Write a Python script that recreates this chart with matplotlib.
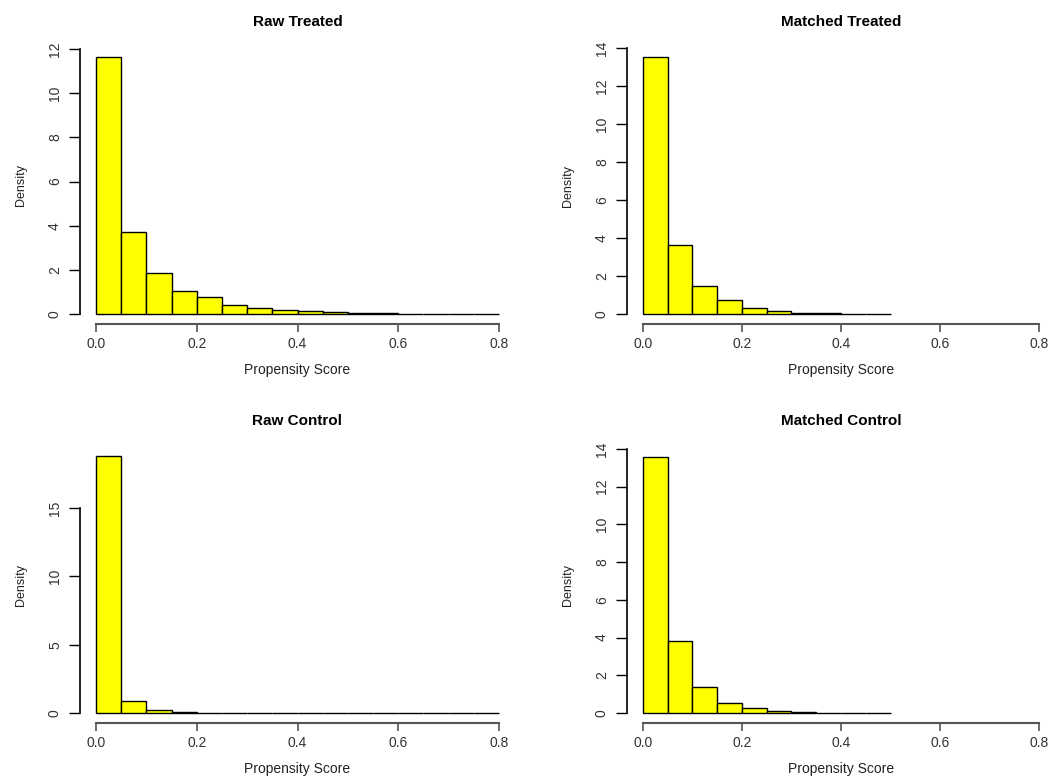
import numpy as np
import matplotlib
matplotlib.use('Agg')
import matplotlib.pyplot as plt

plt.rcParams['font.family'] = ['Liberation Sans', 'DejaVu Sans']

# histogram densities (bin width 0.05)
bin_width = 0.05
raw_treated = [11.65, 3.7, 1.87, 1.05, 0.77, 0.42, 0.25, 0.17, 0.13, 0.08,
               0.04, 0.03, 0.005, 0.0, 0.003, 0.002]
matched_treated = [13.5, 3.65, 1.45, 0.72, 0.32, 0.18, 0.04, 0.03, 0.02, 0.005]
raw_control = [18.8, 0.85, 0.2, 0.05, 0.01, 0.005, 0.003, 0.002, 0.001, 0.001,
               0.0, 0.0, 0.0, 0.0, 0.0, 0.0]
matched_control = [13.6, 3.8, 1.38, 0.55, 0.28, 0.13, 0.05, 0.01, 0.005, 0.003]

titles = ["Raw Treated", "Matched Treated", "Raw Control", "Matched Control"]
series = [raw_treated, matched_treated, raw_control, matched_control]
yticks = [[0, 2, 4, 6, 8, 10, 12], [0, 2, 4, 6, 8, 10, 12, 14],
          [0, 5, 10, 15], [0, 2, 4, 6, 8, 10, 12, 14]]
xticks = [0.0, 0.2, 0.4, 0.6, 0.8]

W, H = 1060, 778
fig = plt.figure(figsize=(W / 100, H / 100), dpi=100)

# axes boxes in pixels: left, right, top, bottom
boxes = [(80, 515, 46.5, 324.3), (627, 1055, 47.2, 324.3),
         (80, 515, 445.8, 723.3), (627, 1055, 446.3, 723.3)]

for title, dens, yt, (l, r, t, b) in zip(titles, series, yticks, boxes):
    ax = fig.add_axes([l / W, 1 - b / H, (r - l) / W, (b - t) / H])
    edges = np.arange(len(dens)) * bin_width
    ax.bar(edges, dens, width=bin_width, align='edge', color='#ffff00',
           edgecolor='black', linewidth=1.0)
    ymax = max(dens)
    ax.set_xlim(-0.032, 0.832)
    ax.set_ylim(-0.04 * ymax, 1.04 * ymax)
    for s in ['top', 'right']:
        ax.spines[s].set_visible(False)
    ax.spines['left'].set_bounds(yt[0], yt[-1])
    ax.spines['bottom'].set_bounds(0, 0.8)
    ax.spines['bottom'].set_color('#555555')
    ax.spines['bottom'].set_linewidth(1.5)
    ax.spines['left'].set_linewidth(1.2)
    ax.set_xticks(xticks)
    ax.set_xticklabels(["0.0", "0.2", "0.4", "0.6", "0.8"])
    ax.set_yticks(yt)
    ax.set_yticklabels([str(v) for v in yt], rotation=90, va='center')
    ax.tick_params(axis='x', length=6, width=1.2, color='#555555', pad=3,
                   labelsize=10, labelcolor='#333333')
    ax.tick_params(axis='y', length=8, width=1.0, pad=5, labelsize=10,
                   labelcolor='#333333')
    ax.set_xlabel("Propensity Score", fontsize=10, labelpad=9, color='#222222')
    ax.set_ylabel("Density", fontsize=9, labelpad=15, color='#222222')
    ax.set_title(title, fontsize=11, fontweight='bold', pad=15)

plt.savefig("out.png", dpi=100)
